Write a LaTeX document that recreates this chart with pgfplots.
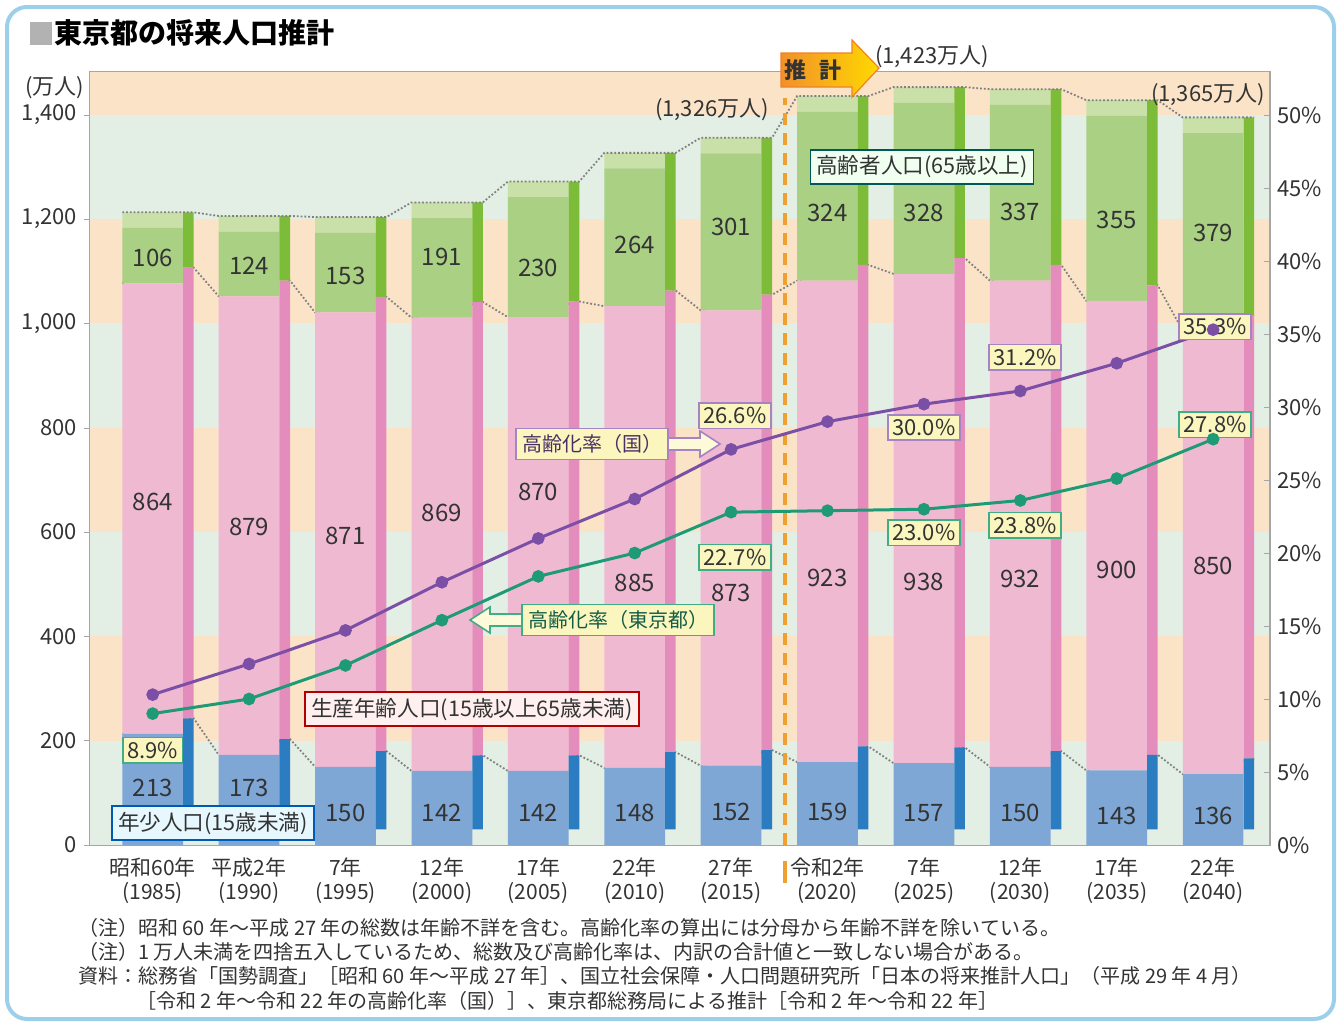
\documentclass[border=0pt]{standalone}
\usepackage{fontspec}
\setmainfont{Noto Sans CJK JP}
\usepackage{pgfplots}
\pgfplotsset{compat=1.18}
\usepackage{pgfplotstable}

\definecolor{bandP}{HTML}{FBE3C8}
\definecolor{bandG}{HTML}{E3EEE4}
\definecolor{bluF}{HTML}{7FA7D6}
\definecolor{bluS}{HTML}{2B7CC0}
\definecolor{pnkF}{HTML}{F0B9D2}
\definecolor{pnkS}{HTML}{E48DBC}
\definecolor{grnF}{HTML}{AAD084}
\definecolor{grnS}{HTML}{7DBC38}
\definecolor{grnT}{HTML}{C9E1A9}
\definecolor{kuni}{HTML}{7B4FA6}
\definecolor{kuniL}{HTML}{A683C2}
\definecolor{toky}{HTML}{1E9A76}
\definecolor{tokyL}{HTML}{3FAE86}
\definecolor{boxY}{HTML}{FAF6BE}
\definecolor{frameB}{HTML}{9CCFEA}
\definecolor{orng}{HTML}{F0A030}
\definecolor{txt}{HTML}{333333}

\pgfplotstableread{
x young working elderly top
0 213 864 106 30
1 173 879 124 30
2 150 871 153 30
3 142 869 191 30
4 142 870 230 30
5 148 885 264 30
6 152 873 301 30
7 159 923 324 30
8 157 938 328 30
9 150 932 337 30
10 143 900 355 30
11 136 850 379 30
}\pop

\newcommand\fs[2]{\fontsize{#1}{#2}\selectfont}

\pgfplotsset{
  base/.style={scale only axis, width=590pt, height=386.5pt,
    xmin=-0.65, xmax=11.59, at={(45pt,-422.5pt)}, anchor=south west},
  leftax/.style={base, ymin=0, ymax=1482},
}
\tikzset{pbox/.style={fill=boxY, line width=0.8pt, inner sep=2.2pt, font=\fs{11}{12}, text=txt}}

\begin{document}
\begin{tikzpicture}
\begin{scope}[x=0.5pt,y=-0.5pt]
\path[use as bounding box] (0,0) rectangle (1340,1023);
\draw[frameB, line width=2pt, rounded corners=10pt] (7,7) rectangle (1334,1019);
\fill[gray!60] (30,22) rectangle (52,45);
\node[anchor=west, font=\fs{14}{14}\bfseries, text=black, inner sep=0pt] at (54,33) {東京都の将来人口推計};
\end{scope}

% ---------- background axis ----------
\begin{axis}[leftax,
  axis line style={gray!70, line width=0.8pt},
  xtick={0,...,11},
  xticklabels={{昭和60年\\(1985)},{平成2年\\(1990)},{7年\\(1995)},{12年\\(2000)},{17年\\(2005)},{22年\\(2010)},{27年\\(2015)},{令和2年\\(2020)},{7年\\(2025)},{12年\\(2030)},{17年\\(2035)},{22年\\(2040)}},
  xticklabel style={align=center, font=\fs{10.5}{12}, text=txt},
  xtick style={draw=none},
  ytick={0,200,...,1400}, ytick pos=left, tick align=outside,
  ytick style={gray!70}, major tick length=3pt,
  yticklabel style={font=\fs{11}{12}, text=txt, /pgf/number format/1000 sep={,}, /pgf/number format/assume math mode=true},
]
\fill[bandP] (axis cs:-0.65,1400) rectangle (axis cs:11.59,1482);
\fill[bandG] (axis cs:-0.65,1200) rectangle (axis cs:11.59,1400);
\fill[bandP] (axis cs:-0.65,1000) rectangle (axis cs:11.59,1200);
\fill[bandG] (axis cs:-0.65,800) rectangle (axis cs:11.59,1000);
\fill[bandP] (axis cs:-0.65,600) rectangle (axis cs:11.59,800);
\fill[bandG] (axis cs:-0.65,400) rectangle (axis cs:11.59,600);
\fill[bandP] (axis cs:-0.65,200) rectangle (axis cs:11.59,400);
\fill[bandG] (axis cs:-0.65,0) rectangle (axis cs:11.59,200);
\addplot[gray, densely dotted, line width=0.9pt] coordinates {(-0.315,1077)(0.425,1107)(0.685,1052)(1.425,1082)(1.685,1021)(2.425,1051)(2.685,1011)(3.425,1041)(3.685,1012)(4.425,1042)(4.685,1033)(5.425,1063)(5.685,1025)(6.425,1055)(6.685,1082)(7.425,1112)(7.685,1095)(8.425,1125)(8.685,1082)(9.425,1112)(9.685,1043)(10.425,1073)(10.685,986)(11.425,1016)};
\addplot[gray, densely dotted, line width=0.9pt] coordinates {(-0.315,213)(0.425,243)(0.685,173)(1.425,203)(1.685,150)(2.425,180)(2.685,142)(3.425,172)(3.685,142)(4.425,172)(4.685,148)(5.425,178)(5.685,152)(6.425,182)(6.685,159)(7.425,189)(7.685,157)(8.425,187)(8.685,150)(9.425,180)(9.685,143)(10.425,173)(10.685,136)(11.425,166)};
\end{axis}

% ---------- bar faces ----------
\begin{axis}[leftax, hide axis, ybar stacked, bar width=0.63]
\addplot[fill=bluF, draw=none] table[x=x,y=young]{\pop};
\addplot[fill=pnkF, draw=none] table[x=x,y=working]{\pop};
\addplot[fill=grnF, draw=none] table[x=x,y=elderly]{\pop};
\addplot[fill=grnT, draw=none] table[x=x,y=top]{\pop};
\end{axis}

% ---------- bar sides ----------
\begin{axis}[leftax, hide axis, ybar stacked, bar width=0.11, bar shift=0.37]
\addplot[fill=none, draw=none] table[x=x,y=top]{\pop};
\addplot[fill=bluS, draw=none] table[x=x,y=young]{\pop};
\addplot[fill=pnkS, draw=none] table[x=x,y=working]{\pop};
\addplot[fill=grnS, draw=none] table[x=x,y=elderly]{\pop};
\end{axis}

% ---------- labels / top line ----------
\begin{axis}[leftax, hide axis, clip=false]
\addplot[gray, densely dotted, line width=0.9pt] coordinates {(-0.315,1213)(0.425,1213)(0.685,1206)(1.425,1206)(1.685,1204)(2.425,1204)(2.685,1232)(3.425,1232)(3.685,1272)(4.425,1272)(4.685,1327)(5.425,1327)(5.685,1356)(6.425,1356)(6.685,1436)(7.425,1436)(7.685,1453)(8.425,1453)(8.685,1449)(9.425,1449)(9.685,1428)(10.425,1428)(10.685,1395)(11.425,1395)};
\draw[orng, line width=2pt, dash pattern=on 6pt off 4pt] (axis cs:6.555,0) -- (axis cs:6.555,1432);
\draw[orng, line width=2pt] (axis cs:6.555,-30) -- (axis cs:6.555,-72);
\begin{scope}[font=\fs{12}{12}, text=txt]
\node at (axis cs:0,1126) {106}; \node at (axis cs:1,1110) {124}; \node at (axis cs:2,1091) {153};
\node at (axis cs:3,1128) {191}; \node at (axis cs:4,1107) {230}; \node at (axis cs:5,1151) {264};
\node at (axis cs:6,1185) {301}; \node at (axis cs:7,1212) {324}; \node at (axis cs:8,1212) {328};
\node at (axis cs:9,1214) {337}; \node at (axis cs:10,1199) {355}; \node at (axis cs:11,1174) {379};
\node at (axis cs:0,658) {864}; \node at (axis cs:1,610) {879}; \node at (axis cs:2,593) {871};
\node at (axis cs:3,637) {869}; \node at (axis cs:4,677) {870}; \node at (axis cs:5,502) {885};
\node at (axis cs:6,483) {873}; \node at (axis cs:7,512) {923}; \node at (axis cs:8,504) {938};
\node at (axis cs:9,510) {932}; \node at (axis cs:10,527) {900}; \node at (axis cs:11,535) {850};
\node at (axis cs:0,109) {213}; \node at (axis cs:1,109) {173}; \node at (axis cs:2,61) {150};
\node at (axis cs:3,61) {142}; \node at (axis cs:4,61) {142}; \node at (axis cs:5,62) {148};
\node at (axis cs:6,64) {152}; \node at (axis cs:7,64) {159}; \node at (axis cs:8,61) {157};
\node at (axis cs:9,61) {150}; \node at (axis cs:10,56) {143}; \node at (axis cs:11,56) {136};
\end{scope}
\end{axis}

% ---------- right axis, rates ----------
\begin{axis}[base, ymin=0, ymax=52.95, clip=false,
  axis x line=none, axis y line*=right,
  axis line style={gray!70, line width=0.8pt},
  ytick={0,5,...,50}, ytick style={gray!70}, major tick length=3pt,
  yticklabel={\pgfmathprintnumber{\tick}\%},
  yticklabel style={font=\fs{11}{12}, text=txt, /pgf/number format/assume math mode=true},
]
\addplot[kuni, line width=1.5pt, mark=*, mark size=2.4pt] coordinates {(0,10.3)(1,12.4)(2,14.7)(3,18.0)(4,21.0)(5,23.7)(6,27.1)(7,29.0)(8,30.2)(9,31.1)(10,33.0)(11,35.3)};
\addplot[toky, line width=1.5pt, mark=*, mark size=2.4pt] coordinates {(0,9.0)(1,10.0)(2,12.3)(3,15.4)(4,18.4)(5,20.0)(6,22.8)(7,22.9)(8,23.0)(9,23.6)(10,25.1)(11,27.8)};
\node[pbox, draw=tokyL] at (axis cs:0,6.5) {8.9\%};
\node[pbox, draw=kuniL] at (axis cs:6.04,29.4) {26.6\%};
\node[pbox, draw=tokyL] at (axis cs:6.04,19.7) {22.7\%};
\node[pbox, draw=kuniL] at (axis cs:8.0,28.6) {30.0\%};
\node[pbox, draw=tokyL] at (axis cs:8.0,21.4) {23.0\%};
\node[pbox, draw=kuniL] at (axis cs:9.05,33.4) {31.2\%};
\node[pbox, draw=tokyL] at (axis cs:9.05,21.9) {23.8\%};
\node[pbox, draw=kuniL] at (axis cs:11.02,35.5) {35.3\%};
\node[pbox, draw=tokyL] at (axis cs:11.02,28.8) {27.8\%};
\end{axis}

\begin{scope}[x=0.5pt,y=-0.5pt]
% axis unit
\node[font=\fs{11}{12}, text=txt] at (55,88) {(万人)};

% estimate arrow
\shade[left color=orng!90!red, right color=yellow!70!orange, draw=orng!80!red, line width=0.6pt]
  (781,53) -- (852,53) -- (852,40) -- (879,68) -- (852,97) -- (852,87) -- (781,87) -- cycle;
\node[font=\fs{11}{11}\bfseries, text=txt] at (813,70) {推\hspace{0.6em}計};

% totals
\node[font=\fs{11}{12}, text=txt] at (932,57) {(1,423万人)};
\node[font=\fs{11}{12}, text=txt] at (712,110) {(1,326万人)};
\node[font=\fs{11}{12}, text=txt] at (1208,95) {(1,365万人)};

% series labels
\node[draw=teal!70!black, fill=green!6, line width=0.8pt, inner sep=3pt, font=\fs{10.8}{12}, text=txt] at (922,167) {高齢者人口(65歳以上)};
\node[draw=red!70!black, fill=pink!25, line width=0.8pt, inner sep=3pt, font=\fs{10.8}{12}, text=txt] at (472,709) {生産年齢人口(15歳以上65歳未満)};
\node[draw=blue!50!cyan!70!black, fill=cyan!10, line width=0.8pt, inner sep=3pt, font=\fs{10.8}{12}, text=txt] at (213,823) {年少人口(15歳未満)};

% rate labels with arrows
\filldraw[fill=boxY!60!white, draw=kuniL, line width=0.8pt] (660,438) -- (700,438) -- (700,431) -- (720,444) -- (700,457) -- (700,450) -- (660,450) -- cycle;
\node[draw=kuniL, fill=boxY, line width=0.8pt, inner sep=3pt, font=\fs{10}{11}, text=kuni!60!black] at (592,444) {高齢化率（国）};
\filldraw[fill=boxY!60!white, draw=tokyL, line width=0.8pt] (530,614) -- (490,614) -- (490,607) -- (470,620) -- (490,633) -- (490,626) -- (530,626) -- cycle;
\node[draw=tokyL, fill=boxY, line width=0.8pt, inner sep=3pt, font=\fs{10}{11}, text=toky!60!black] at (618,620) {高齢化率（東京都）};

% footnotes
\begin{scope}[font=\fs{10}{11}, text=txt]
\node[anchor=west, inner sep=0pt] at (78,928) {（注）昭和 60 年〜平成 27 年の総数は年齢不詳を含む。高齢化率の算出には分母から年齢不詳を除いている。};
\node[anchor=west, inner sep=0pt] at (78,952) {（注）1 万人未満を四捨五入しているため、総数及び高齢化率は、内訳の合計値と一致しない場合がある。};
\node[anchor=west, inner sep=0pt] at (78,976) {資料：総務省「国勢調査」［昭和 60 年〜平成 27 年］、国立社会保障・人口問題研究所「日本の将来推計人口」（平成 29 年 4 月）};
\node[anchor=west, inner sep=0pt] at (136,1001) {［令和 2 年〜令和 22 年の高齢化率（国）］、東京都総務局による推計［令和 2 年〜令和 22 年］};
\end{scope}
\end{scope}
\end{tikzpicture}
\end{document}
